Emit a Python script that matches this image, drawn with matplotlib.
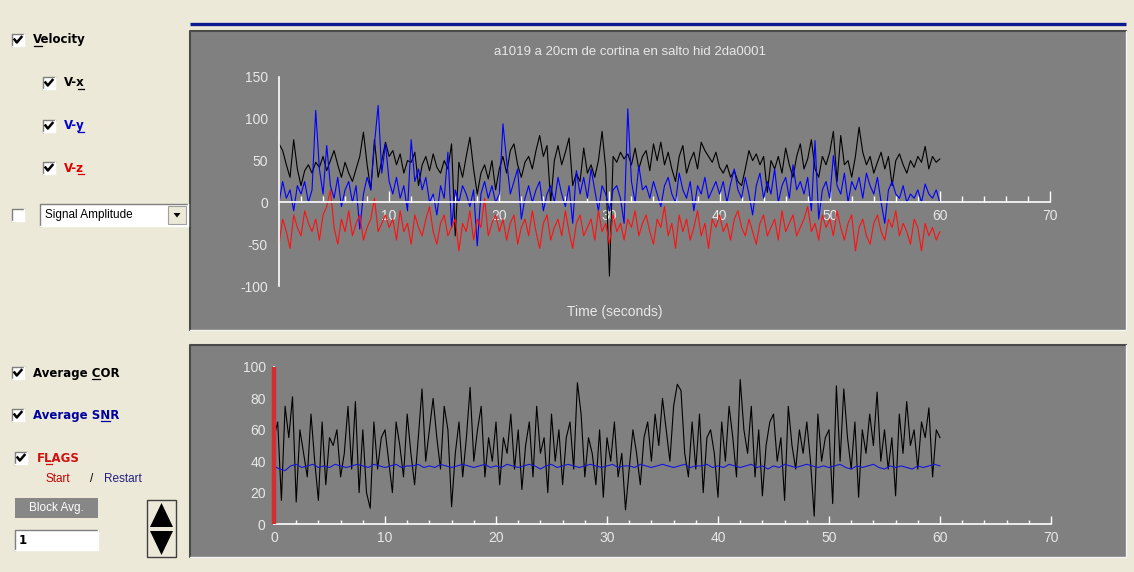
import matplotlib.pyplot as plt
import numpy as np
from matplotlib.patches import Rectangle, Polygon

plt.rcParams['axes.unicode_minus'] = False

# ---- data (time 0..60 s) ----
title = "a1019 a 20cm de cortina en salto hid 2da0001"

vx = [70, 62, 45, 30, 75, 40, 20, 38, 45, 35, 48, 42, 55, 38, 50, 62, 45, 30, 48, 35, 25, 40, 55, 84, 45, 15, 75, 30, 50, 72,
      55, 62, 45, 58, 35, 50, 48, 60, 20, 45, 55, 38, 58, 42, 35, 50, 40, 70, -40, 48, 30, 55, 78, 40, 10, 35, 45, 28, 50, 15,
      40, 55, 35, 62, 70, 45, 30, 48, 55, 40, 62, 80, 55, 68, 0, 50, 68, 45, 60, 77, 20, 35, 25, 65, 35, 45, 30, 50, 85, 40,
      -88, 55, 48, 60, 52, 58, 45, 65, 40, 55, 62, 38, 70, 50, 72, 45, 60, 40, 25, 55, 68, 35, 50, 60, 40, 72, 62, 55, 48, 60,
      42, 35, 45, 30, 38, 25, 20, 40, 62, 50, 58, 45, 55, 12, 50, 40, 55, 35, 65, 45, 30, 55, 70, 40, 52, 75, 40, 30, 55, 45,
      60, 85, 25, 80, 45, 50, 30, 55, 90, 60, 45, 55, 35, 48, 60, 40, 55, 20, 50, 58, 45, 35, 50, 42, 55, 48, 67, 40, 55, 48, 52]

vy = [0, 25, 5, 15, -10, 20, 10, 25, 0, 15, 110, 40, 10, 68, 20, 5, 30, -5, 15, 25, 0, 20, -32, 10, 30, 15, 70, 116, 35, 70,
      25, 10, 30, 5, 20, -10, 75, 25, 40, 15, 30, 0, 10, -15, 20, 5, 60, -30, 15, 0, 20, 10, -5, 15, -52, 10, 25, 5, 20, 0,
      10, 94, 50, 10, 25, 40, -20, 5, 20, 0, 15, 25, -10, 10, 20, 0, 30, 10, -5, 20, -25, 38, 10, 30, 5, 40, 15, -10, 20, 10,
      -10, 15, 20, 5, -25, 112, 25, 0, 44, 15, 20, 5, 25, 10, -5, 20, 30, 10, 0, 35, 15, 5, 25, -10, 20, 10, 30, 5, 15, 25,
      10, 25, 0, 22, 40, 15, 5, 30, 10, -15, 20, 35, 5, 25, 10, 40, 0, 20, 30, 5, 45, 15, 25, 10, 30, -10, 74, -20, 15, 25,
      5, 56, 20, 10, 35, 0, 25, 15, 30, 5, 35, 20, 10, 30, 0, -25, 15, 25, 10, 5, 20, 0, 10, 5, 15, 0, 22, 10, 5, 15, 0]

vz = [-50, -20, -35, -55, -15, -30, -40, -10, -25, -35, -20, -45, -15, -5, 15, -30, -50, -20, -35, -10, -40, -25, -15, -45, -30, -20, 5, -35, -25, -15,
      -30, -20, -45, -10, -35, -25, -50, -15, -30, -40, -20, -5, -35, -50, -25, -15, -40, -30, -20, -58, -25, -35, -10, -45, -20, -30, 5, -40, -25, -15,
      -35, -20, -45, -25, -15, -50, -30, -20, -40, -10, -35, -55, -25, -15, -45, -30, -20, -40, -10, -35, -55, -25, -15, -40, -30, -20, -45, -10, -35, -25,
      -50, -15, -35, -25, -45, -20, -30, -10, -40, -25, -15, -35, -50, -20, -30, -5, -40, -25, -55, -15, -35, -20, -45, -30, -10, -40, -25, -55, -20, -30,
      -15, -35, -25, -45, -20, -10, -30, -40, -20, -35, -50, -25, -15, -40, -30, -20, -45, -10, -35, -25, -15, -40, -30, -20, -5, -35, -25, -45, -15, -30,
      -20, -40, -10, -30, -45, -25, -15, -58, -30, -20, -40, -50, -25, -15, -35, -45, -20, -30, -10, -40, -25, -35, -50, -20, -30, -58, -25, -40, -30, -45, -35]

cor = [55, 65, 15, 75, 55, 81, 14, 60, 45, 30, 70, 40, 15, 65, 25, 55, 50, 60, 30, 45, 75, 35, 78, 20, 60, 20, 10, 65, 35, 55,
       60, 40, 20, 65, 50, 30, 70, 45, 25, 55, 86, 40, 60, 80, 55, 35, 75, 60, 11, 45, 65, 30, 55, 87, 40, 60, 75, 30, 55, 40,
       65, 25, 55, 45, 70, 35, 60, 22, 50, 65, 30, 75, 45, 55, 20, 70, 40, 60, 25, 55, 65, 35, 90, 70, 30, 55, 45, 25, 60, 17,
       55, 40, 65, 30, 45, 9, 35, 60, 45, 25, 55, 65, 40, 70, 50, 80, 60, 40, 75, 89, 85, 45, 30, 65, 35, 70, 20, 55, 60, 45,
       17, 65, 40, 75, 55, 30, 92, 60, 45, 75, 30, 60, 18, 50, 65, 70, 40, 55, 15, 75, 50, 35, 60, 45, 65, 40, 5, 70, 40, 55,
       60, 13, 88, 40, 86, 55, 35, 65, 17, 60, 45, 70, 50, 84, 40, 60, 35, 55, 18, 70, 45, 78, 50, 60, 35, 65, 55, 74, 30, 60, 55]

snr = [37, 35, 34, 37, 38, 36, 37, 38, 36, 37, 36, 38, 37, 36, 37, 38, 37, 36, 38, 37,
       36, 37, 38, 36, 37, 37, 38, 36, 37, 36, 38, 37, 36, 37, 38, 37, 36, 37, 38, 36,
       37, 36, 38, 37, 36, 37, 38, 37, 35, 37, 38, 36, 37, 38, 37, 36, 37, 38, 37, 36,
       37, 38, 36, 37, 37, 36, 38, 37, 36, 37, 38, 37, 36, 37, 38, 36, 37, 37, 38, 36,
       37, 36, 38, 37, 36, 37, 38, 36, 37, 35, 37, 36, 38, 37, 36, 37, 38, 37, 36, 37,
       36, 37, 38, 36, 35, 37, 36, 37, 38, 36, 35, 37, 36, 37, 36, 35, 37, 36, 37, 38, 37]

flag_start = 0.0
t_end = 60

W, H = 1134, 572
BG = '#ECE9D8'
PANEL = '#808080'
TXT = '#E8E8E8'
chart_font = ['Liberation Sans Narrow', 'Liberation Sans', 'DejaVu Sans']
ui_font = ['DejaVu Sans']

fig = plt.figure(figsize=(W / 100, H / 100), dpi=100, facecolor=BG)
ui = fig.add_axes([0, 0, 1, 1])
ui.set_xlim(0, W)
ui.set_ylim(H, 0)
ui.axis('off')
renderer = fig.canvas.get_renderer()


def px_axes(x0, y0, x1, y1):
    return fig.add_axes([x0 / W, 1 - y1 / H, (x1 - x0) / W, (y1 - y0) / H])


def sunken(x0, y0, x1, y1, fc):
    ui.add_patch(Rectangle((x0, y0), x1 - x0, y1 - y0, fc=fc, ec='none'))
    ui.plot([x0, x0, x1], [y1, y0, y0], color='#7F7F7F', lw=1)
    ui.plot([x0, x1, x1], [y1, y1, y0], color='white', lw=1)


def checkbox(x, y, checked=True):
    sunken(x - 6, y - 6, x + 6, y + 6, 'white')
    if checked:
        ui.plot([x - 3.5, x - 1.2, x + 3.5], [y - 0.5, y + 2.5, y - 3], color='black', lw=1.8)


def label(x, y, s, under=None, **kw):
    ui.text(x, y, s, ha='left', va='center', family=ui_font, **kw)
    if under is not None:
        def width(part):
            if not part:
                return 0
            tt = fig.text(0, 0, part, family=ui_font, fontsize=kw.get('fontsize'),
                          fontweight=kw.get('fontweight', 'normal'))
            w = tt.get_window_extent(renderer).width
            tt.remove()
            return w
        a = width(s[:under])
        b = width(s[:under + 1])
        ui.plot([x + a + 0.5, x + b - 0.5], [y + 6, y + 6], color=kw.get('color', 'black'), lw=0.9)


# top blue rule
ui.plot([190, 1126], [24, 24], color='#0B1A8E', lw=2.4, solid_capstyle='butt')

# chart panels
for (x0, y0, x1, y1) in [(190, 31, 1126, 330), (190, 345, 1126, 557)]:
    ui.add_patch(Rectangle((x0, y0), x1 - x0, y1 - y0, fc=PANEL, ec='none'))
    ui.plot([x0, x0, x1], [y1, y0, y0], color='#4A4A4A', lw=1.5)
    ui.plot([x0, x1, x1], [y1, y1, y0], color='#F4F4F4', lw=1)

# left controls
checkbox(18, 40)
label(33, 40, 'Velocity', under=0, fontsize=8.5, fontweight='bold')
checkbox(49, 83)
label(64, 83, 'V-x', under=2, fontsize=8.5, fontweight='bold')
checkbox(49, 126)
label(64, 126, 'V-y', under=2, fontsize=8.5, fontweight='bold', color='#0000CC')
checkbox(49, 168)
label(64, 168, 'V-z', under=2, fontsize=8.5, fontweight='bold', color='#E00000')
checkbox(18, 215, checked=False)
sunken(40, 204, 188, 226, 'white')
ui.add_patch(Rectangle((168, 206), 18, 18, fc=BG, ec='#A0A0A0', lw=0.8))
ui.add_patch(Polygon([(173.5, 213), (180.5, 213), (177, 217.5)], fc='black'))
ui.text(45, 215, 'Signal Amplitude', ha='left', va='center', fontsize=8.5,
        family=['Liberation Sans', 'DejaVu Sans'])

checkbox(18, 373)
label(33, 373, 'Average COR', under=8, fontsize=8.5, fontweight='bold')
checkbox(18, 415)
label(33, 415, 'Average SNR', under=9, fontsize=8.5, fontweight='bold', color='#0000A0')
checkbox(21, 458)
label(37, 458, 'FLAGS', under=1, fontsize=8.5, fontweight='bold', color='#D01010')
ui.text(45, 479, 'Start', ha='left', va='center', fontsize=8.5, color='#C00000',
        family=['Liberation Sans', 'DejaVu Sans'])
ui.text(90, 479, '/', ha='left', va='center', fontsize=8.5, color='black',
        family=['Liberation Sans', 'DejaVu Sans'])
ui.text(104, 479, 'Restart', ha='left', va='center', fontsize=8.5, color='#202080',
        family=['Liberation Sans', 'DejaVu Sans'])

ui.add_patch(Rectangle((15, 498), 83, 20, fc='#878787', ec='none'))
ui.text(56, 508, 'Block Avg.', ha='center', va='center', color='white', fontsize=8.5,
        family=['Liberation Sans', 'DejaVu Sans'])
sunken(15, 530, 98, 550, 'white')
ui.text(19, 540, '1', ha='left', va='center', fontsize=8.5, fontweight='bold', family=ui_font)

ui.add_patch(Rectangle((147, 500), 29, 57, fc=BG, ec='#404040', lw=1))
ui.add_patch(Polygon([(150, 527), (161.5, 503), (173, 527)], fc='black'))
ui.add_patch(Polygon([(150, 531), (173, 531), (161.5, 555)], fc='black'))

# ---- top chart: velocity ----
ui.text(630, 52, title, ha='center', va='center', color=TXT, fontsize=9.5, family=chart_font)
ui.text(615, 312, 'Time (seconds)', ha='center', va='center', color=TXT, fontsize=10, family=chart_font)

ax1 = px_axes(279, 77, 1050, 286)
ax1.patch.set_alpha(0)
ax1.plot(np.linspace(0, t_end, len(vx)), vx, color='black', lw=0.8)
ax1.plot(np.linspace(0, t_end, len(vy)), vy, color='#0000FF', lw=0.8)
ax1.plot(np.linspace(0, t_end, len(vz)), vz, color='#FF1010', lw=0.8)
ax1.set_xlim(0, 70)
ax1.set_ylim(-100, 150)
for s in ['top', 'right']:
    ax1.spines[s].set_visible(False)
ax1.spines['bottom'].set_position(('data', 0))
for s in ['left', 'bottom']:
    ax1.spines[s].set_color('white')
    ax1.spines[s].set_linewidth(1.2)
    ax1.spines[s].set_zorder(5)
ax1.set_xticks(range(10, 71, 10))
ax1.set_xticks([v for v in range(2, 70, 2) if v % 10], minor=True)
ax1.set_yticks(range(-100, 151, 50))
ax1.set_yticks([-100, 150], minor=True)
ax1.tick_params(axis='x', which='major', direction='in', length=8, width=1, color='white',
                labelcolor=TXT, labelsize=10, pad=5)
ax1.tick_params(axis='x', which='minor', direction='in', length=4, width=1, color='white')
ax1.tick_params(axis='y', which='major', length=0, labelcolor=TXT, labelsize=10, pad=8)
ax1.tick_params(axis='y', which='minor', direction='in', length=5, width=1, color='white')
for lab in ax1.get_xticklabels() + ax1.get_yticklabels():
    lab.set_family(chart_font)

# ---- bottom chart: COR / SNR / flags ----
ax2 = px_axes(274, 367, 1051, 524)
ax2.patch.set_alpha(0)
ax2.plot(np.linspace(0, t_end, len(cor)), cor, color='black', lw=0.8)
ax2.plot(np.linspace(0, t_end, len(snr)), snr, color='#1515E0', lw=0.8)
ax2.plot([flag_start, flag_start], [0, 100], color='#D03030', lw=3.2, clip_on=False,
         solid_capstyle='butt', zorder=6)
ax2.set_xlim(0, 70)
ax2.set_ylim(0, 100)
for s in ['top', 'right']:
    ax2.spines[s].set_visible(False)
for s in ['left', 'bottom']:
    ax2.spines[s].set_color('white')
    ax2.spines[s].set_linewidth(1.2)
ax2.set_xticks(range(0, 71, 10))
ax2.set_xticks([v for v in range(2, 70, 2) if v % 10], minor=True)
ax2.set_yticks(range(0, 101, 20))
ax2.set_yticks([100], minor=True)
ax2.tick_params(axis='x', which='major', direction='in', length=6, width=1, color='white',
                labelcolor=TXT, labelsize=10, pad=5)
ax2.tick_params(axis='x', which='minor', direction='in', length=3, width=1, color='white')
ax2.tick_params(axis='y', which='major', length=0, labelcolor=TXT, labelsize=10, pad=6)
ax2.tick_params(axis='y', which='minor', direction='in', length=5, width=1, color='white')
for lab in ax2.get_xticklabels() + ax2.get_yticklabels():
    lab.set_family(chart_font)

fig.savefig('out.png', dpi=100, facecolor=BG)
